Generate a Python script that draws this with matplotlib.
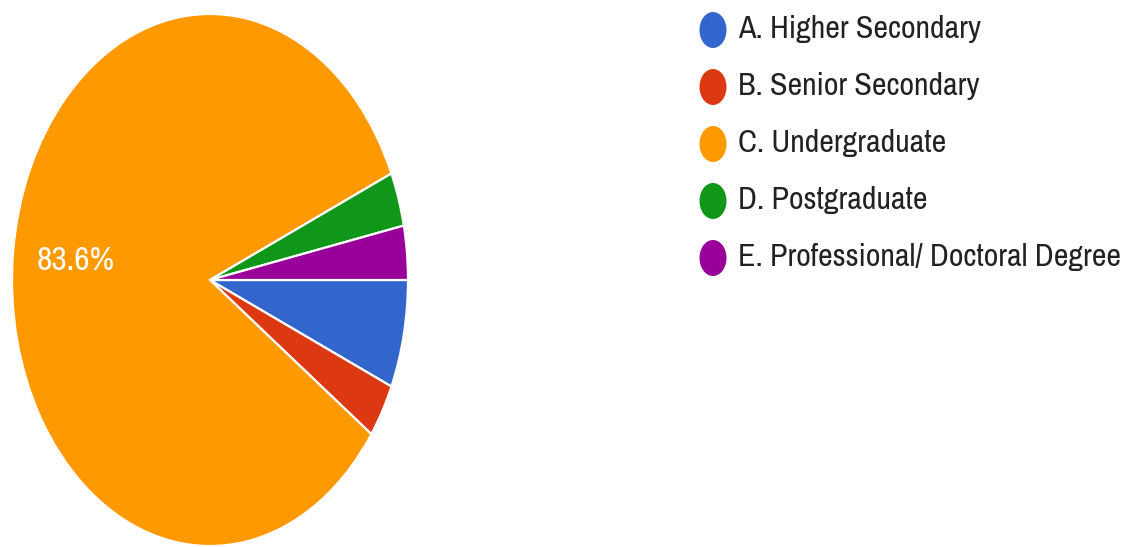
import matplotlib
matplotlib.use("Agg")
import matplotlib.pyplot as plt
from matplotlib import font_manager
from matplotlib.patches import Ellipse

# Survey responses by highest qualification (61 respondents)
categories = [
    "A. Higher Secondary",
    "B. Senior Secondary",
    "C. Undergraduate",
    "D. Postgraduate",
    "E. Professional/ Doctoral Degree",
]
counts = [4, 2, 51, 2, 2]
colors = ["#3366cc", "#dc3912", "#ff9900", "#109618", "#990099"]

W, H = 1135, 547
fig = plt.figure(figsize=(W / 100, H / 100), dpi=100)
fig.patch.set_facecolor("white")

# Prefer a narrow sans face if one is installed; otherwise use the regular one
narrow = None
for f in font_manager.fontManager.ttflist:
    n = f.name.lower()
    if ("narrow" in n or "condensed" in n) and "serif" not in n and "mono" not in n:
        narrow = f.name
        break
if narrow:
    text_family = [narrow, "DejaVu Sans"]
    fs = 23
else:
    text_family = ["Liberation Sans", "DejaVu Sans"]
    fs = 19

# Pie (stretched vertically, as an ellipse)
px0, px1 = 12, 408
py_top, py_bot = 14, 546
ax = fig.add_axes([px0 / W, (H - py_bot) / H, (px1 - px0) / W, (py_bot - py_top) / H])


def big_only(pct):
    return f"{pct:.1f}%" if pct > 10 else ""


wedges, texts, autotexts = ax.pie(
    counts,
    colors=colors,
    startangle=0,
    counterclock=False,
    autopct=big_only,
    pctdistance=0.68,
    wedgeprops=dict(edgecolor="white", linewidth=1.6),
    textprops=dict(color="white", fontsize=fs + 1, family=text_family),
)
ax.set_aspect("auto")
ax.set_xlim(-1, 1)
ax.set_ylim(-1, 1)
ax.axis("off")

# Legend drawn in pixel coordinates
lg = fig.add_axes([0, 0, 1, 1])
lg.set_xlim(0, W)
lg.set_ylim(H, 0)
lg.axis("off")
lg.patch.set_alpha(0)

row_y0, row_step = 30, 57
for i, (name, col) in enumerate(zip(categories, colors)):
    yc = row_y0 + i * row_step
    lg.add_patch(Ellipse((713, yc), 27, 36, facecolor=col, edgecolor="none"))
    lg.text(738, yc + 8, name, fontsize=fs, color="#222222",
            family=text_family, va="baseline", ha="left")

fig.savefig("out.png", dpi=100, facecolor="white")
